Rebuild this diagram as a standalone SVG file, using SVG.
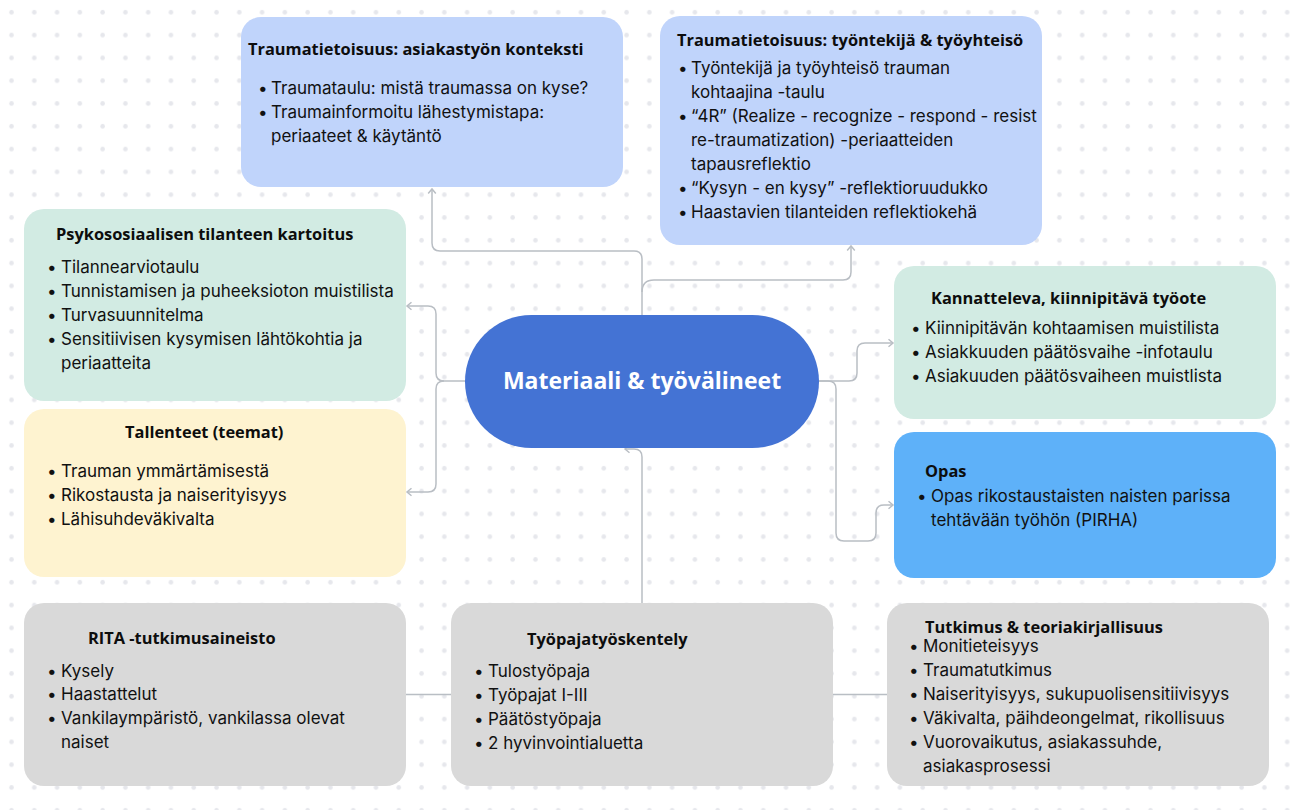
<svg xmlns="http://www.w3.org/2000/svg" width="1292" height="810" viewBox="0 0 1292 810">
<style>
.t{font-family:"Open Sans","Noto Sans",sans-serif;font-weight:700;font-size:16.4px;fill:#0d0d0d}
.b{font-family:Inter,"Noto Sans",sans-serif;font-size:17px;fill:#111}
.c{fill:none;stroke:#b9bec4;stroke-width:1.5}
.mid{font-family:"Open Sans","Noto Sans",sans-serif;font-weight:700;font-size:23px;fill:#fff}
</style>
<defs>
<pattern id="dots" patternUnits="userSpaceOnUse" x="0" y="0" width="22.78" height="22.8">
<circle cx="11.5" cy="12.3" r="2.3" fill="#e6e7ec"/>
</pattern>
<marker id="ah" markerUnits="userSpaceOnUse" markerWidth="12" markerHeight="12" refX="0" refY="0" viewBox="-6 -6 12 12" orient="auto" overflow="visible">
<path d="M-4.5,-3.8 L0,0 L-4.5,3.8" fill="none" stroke="#b9bec4" stroke-width="1.5"/>
</marker>
</defs>
<rect width="1292" height="810" fill="#fff"/>
<rect width="1292" height="810" fill="url(#dots)"/>

<g id="connectors">
<path class="c" d="M642,315 V259 Q642,251 634,251 H440 Q432,251 432,243 V189" marker-end="url(#ah)"/>
<path class="c" d="M642,292 Q642,280 654,280 H843 Q851,280 851,272 V246" marker-end="url(#ah)"/>
<path class="c" d="M465,381 H444 Q436,381 436,373 V314 Q436,306 428,306 H407" marker-end="url(#ah)"/>
<path class="c" d="M444,381 Q436,381 436,389 V484 Q436,492 428,492 H407" marker-end="url(#ah)"/>
<path class="c" d="M819,381 H849 Q857,381 857,373 V351 Q857,343 865,343 H893" marker-end="url(#ah)"/>
<path class="c" d="M819,381 H828 Q836,381 836,389 V533 Q836,541 844,541 H868 Q876,541 876,533 V513 Q876,505 884,505 H893" marker-end="url(#ah)"/>
<path class="c" d="M642,603 V457 Q642,449 634,449 H625" marker-end="url(#ah)"/>
<path class="c" d="M405,694.5 H452"/>
<path class="c" d="M833,694.5 H888"/>
</g>

<g id="center">
<rect x="465" y="315" width="354" height="133" rx="66.5" fill="#4473d4"/>
<text class="mid" x="642" y="389" text-anchor="middle">Materiaali &amp; työvälineet</text>
</g>

<g id="asiakastyo">
<rect x="241" y="17" width="382" height="170" rx="20" fill="#c0d4fb"/>
<text class="t" x="248" y="55">Traumatietoisuus: asiakastyön konteksti</text>
<text class="b" x="258" y="94">•</text><text class="b" x="271" y="94">Traumataulu: mistä traumassa on kyse?</text>
<text class="b" x="258" y="118">•</text><text class="b" x="271" y="118">Traumainformoitu lähestymistapa:</text>
<text class="b" x="271" y="142">periaateet &amp; käytäntö</text>
</g>

<g id="tyontekija">
<rect x="660" y="16" width="382" height="229" rx="20" fill="#c0d4fb"/>
<text class="t" x="677" y="46">Traumatietoisuus: työntekijä &amp; työyhteisö</text>
<text class="b" x="678" y="74">•</text><text class="b" x="691" y="74">Työntekijä ja työyhteisö trauman</text>
<text class="b" x="691" y="98">kohtaajina -taulu</text>
<text class="b" x="678" y="122">•</text><text class="b" x="691" y="122">“4R” (Realize - recognize - respond - resist</text>
<text class="b" x="691" y="146">re-traumatization) -periaatteiden</text>
<text class="b" x="691" y="170">tapausreflektio</text>
<text class="b" x="678" y="194">•</text><text class="b" x="691" y="194">“Kysyn - en kysy” -reflektioruudukko</text>
<text class="b" x="678" y="218">•</text><text class="b" x="691" y="218">Haastavien tilanteiden reflektiokehä</text>
</g>

<g id="psykososiaalinen">
<rect x="24" y="209" width="382" height="192" rx="20" fill="#d2ebe3"/>
<text class="t" x="56" y="240">Psykososiaalisen tilanteen kartoitus</text>
<text class="b" x="47" y="273">•</text><text class="b" x="61" y="273">Tilannearviotaulu</text>
<text class="b" x="47" y="297">•</text><text class="b" x="61" y="297">Tunnistamisen ja puheeksioton muistilista</text>
<text class="b" x="47" y="321">•</text><text class="b" x="61" y="321">Turvasuunnitelma</text>
<text class="b" x="47" y="345">•</text><text class="b" x="61" y="345">Sensitiivisen kysymisen lähtökohtia ja</text>
<text class="b" x="61" y="369">periaatteita</text>
</g>

<g id="tallenteet">
<rect x="24" y="409" width="382" height="168" rx="20" fill="#fef3d0"/>
<text class="t" x="125" y="438">Tallenteet (teemat)</text>
<text class="b" x="47" y="477">•</text><text class="b" x="61" y="477">Trauman ymmärtämisestä</text>
<text class="b" x="47" y="501">•</text><text class="b" x="61" y="501">Rikostausta ja naiserityisyys</text>
<text class="b" x="47" y="525">•</text><text class="b" x="61" y="525">Lähisuhdeväkivalta</text>
</g>

<g id="kannatteleva">
<rect x="894" y="266" width="382" height="153" rx="20" fill="#d2ebe3"/>
<text class="t" x="931" y="304">Kannatteleva, kiinnipitävä työote</text>
<text class="b" x="911" y="334">•</text><text class="b" x="925" y="334">Kiinnipitävän kohtaamisen muistilista</text>
<text class="b" x="911" y="358">•</text><text class="b" x="925" y="358">Asiakkuuden päätösvaihe -infotaulu</text>
<text class="b" x="911" y="382">•</text><text class="b" x="925" y="382">Asiakuuden päätösvaiheen muistlista</text>
</g>

<g id="opas">
<rect x="894" y="432" width="382" height="146" rx="20" fill="#5eb1f9"/>
<text class="t" x="925" y="477">Opas</text>
<text class="b" x="917" y="502">•</text><text class="b" x="931" y="502">Opas rikostaustaisten naisten parissa</text>
<text class="b" x="931" y="526">tehtävään työhön (PIRHA)</text>
</g>

<g id="rita">
<rect x="24" y="603" width="382" height="183" rx="20" fill="#d9d9d9"/>
<text class="t" x="88" y="644">RITA -tutkimusaineisto</text>
<text class="b" x="47" y="677">•</text><text class="b" x="61" y="677">Kysely</text>
<text class="b" x="47" y="700">•</text><text class="b" x="61" y="700">Haastattelut</text>
<text class="b" x="47" y="724">•</text><text class="b" x="61" y="724">Vankilaympäristö, vankilassa olevat</text>
<text class="b" x="61" y="748">naiset</text>
</g>

<g id="tyopaja">
<rect x="451" y="603" width="382" height="183" rx="20" fill="#d9d9d9"/>
<text class="t" x="527" y="645">Työpajatyöskentely</text>
<text class="b" x="474" y="677">•</text><text class="b" x="488" y="677">Tulostyöpaja</text>
<text class="b" x="474" y="701">•</text><text class="b" x="488" y="701">Työpajat I-III</text>
<text class="b" x="474" y="725">•</text><text class="b" x="488" y="725">Päätöstyöpaja</text>
<text class="b" x="474" y="749">•</text><text class="b" x="488" y="749">2 hyvinvointialuetta</text>
</g>

<g id="tutkimus">
<rect x="887" y="603" width="382" height="183" rx="20" fill="#d9d9d9"/>
<text class="t" x="925" y="633">Tutkimus &amp; teoriakirjallisuus</text>
<text class="b" x="909" y="652">•</text><text class="b" x="923" y="652">Monitieteisyys</text>
<text class="b" x="909" y="676">•</text><text class="b" x="923" y="676">Traumatutkimus</text>
<text class="b" x="909" y="700">•</text><text class="b" x="923" y="700">Naiserityisyys, sukupuolisensitiivisyys</text>
<text class="b" x="909" y="724">•</text><text class="b" x="923" y="724">Väkivalta, päihdeongelmat, rikollisuus</text>
<text class="b" x="909" y="748">•</text><text class="b" x="923" y="748">Vuorovaikutus, asiakassuhde,</text>
<text class="b" x="923" y="772">asiakasprosessi</text>
</g>
</svg>
